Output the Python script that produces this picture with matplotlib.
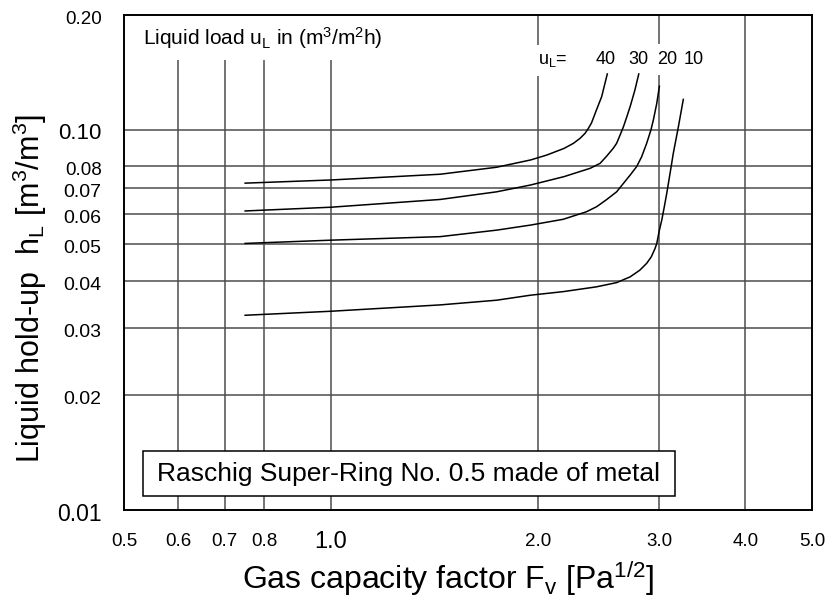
import matplotlib
matplotlib.use('Agg')
import matplotlib.pyplot as plt
from matplotlib.ticker import NullLocator
from matplotlib.patches import Rectangle

plt.rcParams['font.family'] = ['Liberation Sans', 'DejaVu Sans']
plt.rcParams['mathtext.fontset'] = 'custom'
plt.rcParams['mathtext.rm'] = 'Liberation Sans'
plt.rcParams['mathtext.it'] = 'Liberation Sans:italic'

# liquid loads u_L in m3/(m2 h), one hold-up curve each
liquid_loads = [40, 30, 20, 10]

fv_40 = [0.75, 1.0, 1.44, 1.74, 1.95, 2.058, 2.18, 2.25, 2.30, 2.339, 2.365,
         2.39, 2.43, 2.473, 2.52]
hl_40 = [0.0723, 0.0737, 0.0763, 0.0796, 0.0832, 0.0857, 0.0892, 0.0920, 0.0948, 0.0977, 0.1007,
         0.1040, 0.1125, 0.122, 0.140]

fv_30 = [0.75, 1.0, 1.44, 1.74, 1.95, 2.18, 2.38, 2.46, 2.51, 2.57, 2.60, 2.63,
         2.66, 2.69, 2.72, 2.764, 2.80]
hl_30 = [0.0611, 0.0625, 0.0655, 0.0686, 0.0715, 0.0752, 0.0791, 0.0815, 0.0848, 0.0892, 0.0920, 0.0967,
         0.1017, 0.108, 0.1148, 0.127, 0.140]

fv_20 = [0.75, 1.0, 1.44, 1.74, 1.95, 2.175, 2.35, 2.432, 2.51, 2.60, 2.66, 2.72,
         2.78, 2.827, 2.875, 2.916, 2.94, 2.974, 3.0]
hl_20 = [0.0502, 0.0512, 0.0523, 0.0544, 0.0561, 0.0581, 0.0608, 0.0627, 0.0653, 0.0686, 0.0722, 0.0759,
         0.0799, 0.0848, 0.0920, 0.0997, 0.1059, 0.1172, 0.130]

fv_10 = [0.75, 1.0, 1.44, 1.74, 1.95, 2.175, 2.43, 2.60, 2.72, 2.81, 2.875, 2.92,
         2.957, 2.974, 3.0, 3.024, 3.05, 3.075, 3.109, 3.143, 3.197, 3.25]
hl_10 = [0.0325, 0.0333, 0.0346, 0.0356, 0.0367, 0.0375, 0.0386, 0.0396, 0.0410, 0.0427, 0.0445, 0.0463,
         0.0487, 0.0502, 0.0544, 0.0578, 0.0627, 0.0680, 0.0767, 0.0866, 0.1017, 0.120]

curves = [(fv_40, hl_40), (fv_30, hl_30), (fv_20, hl_20), (fv_10, hl_10)]

x_ticks = [0.5, 0.6, 0.7, 0.8, 1.0, 2.0, 3.0, 4.0, 5.0]
x_labels = ['0.5', '0.6', '0.7', '0.8', '1.0', '2.0', '3.0', '4.0', '5.0']
x_sizes = [13.5, 13.5, 13.5, 13.5, 17, 13.5, 13.5, 13.5, 13.5]

y_ticks = [0.01, 0.02, 0.03, 0.04, 0.05, 0.06, 0.07, 0.08, 0.10, 0.20]
y_labels = ['0.01', '0.02', '0.03', '0.04', '0.05', '0.06', '0.07', '0.08', '0.10', '0.20']
y_sizes = [16.5, 14, 14, 14, 14, 14, 14, 13.5, 16, 13.5]

short_grid_x = [0.6, 0.7, 0.8, 1.0]   # stop below the top caption
full_grid_x = [2.0, 3.0, 4.0]
grid_y = [0.02, 0.03, 0.04, 0.05, 0.06, 0.07, 0.08, 0.10]

fig = plt.figure(figsize=(8.27, 6.01), dpi=100)
ax = fig.add_axes([0.1499, 0.1514, 0.8320, 0.8236])
ax.set_xscale('log')
ax.set_yscale('log')
ax.set_xlim(0.5, 5.0)
ax.set_ylim(0.01, 0.20)
for axis in (ax.xaxis, ax.yaxis):
    axis.set_major_locator(NullLocator())
    axis.set_minor_locator(NullLocator())
for sp in ax.spines.values():
    sp.set_linewidth(1.4)
    sp.set_color('black')

gcol = '0.3'
ax.vlines(short_grid_x, 0.01, 0.152, color=gcol, lw=1.1, zorder=1)
for x in full_grid_x:
    ax.axvline(x, color=gcol, lw=1.1, zorder=1)
for y in grid_y:
    ax.axhline(y, color=gcol, lw=1.1, zorder=1)

for fv, hl in curves:
    ax.plot(fv, hl, color='black', lw=1.1, zorder=5)

# tick labels
for x, lab, s in zip(x_ticks, x_labels, x_sizes):
    ax.annotate(lab, xy=(x, 0), xycoords=('data', 'axes fraction'),
                xytext=(0, -23), textcoords='offset points',
                ha='center', va='center', fontsize=s)
for y, lab, s in zip(y_ticks, y_labels, y_sizes):
    ax.annotate(lab, xy=(0, y), xycoords=('axes fraction', 'data'),
                xytext=(-16, -3), textcoords='offset points',
                ha='right', va='center', fontsize=s)

ax.text(0.0276, 0.939, r'Liquid load u$_\mathregular{L}$ in (m$^\mathregular{3}$/m$^\mathregular{2}$h)',
        transform=ax.transAxes, ha='left', va='baseline', fontsize=15)

# curve labels
white = dict(facecolor='white', edgecolor='none', pad=5)
ax.text(0.6017, 0.901, r'u$_\mathregular{L}$=', transform=ax.transAxes,
        ha='left', va='baseline', fontsize=13, bbox=white, zorder=3)
label_x = [0.686, 0.733, 0.775, 0.814]
for lx, load in zip(label_x, liquid_loads):
    ax.text(lx, 0.901, str(load), transform=ax.transAxes, ha='left',
            va='baseline', fontsize=13, bbox=white, zorder=3)

ax.add_patch(Rectangle((0.0276, 0.0283), 0.7733, 0.0909, transform=ax.transAxes,
                       facecolor='white', edgecolor='black', lw=1.1, zorder=6))
ax.text(0.4142, 0.0737, 'Raschig Super-Ring No. 0.5 made of metal',
        transform=ax.transAxes, ha='center', va='center', fontsize=19, zorder=7)

fig.text(448 / 827, 1 - 589 / 601, r'Gas capacity factor F$_\mathregular{v}$ [Pa$^\mathregular{1/2}$]',
         ha='center', va='baseline', fontsize=23)
fig.text(30 / 827, 1 - 288 / 601, r'Liquid hold-up  h$_\mathregular{L}$ [m$^\mathregular{3}$/m$^\mathregular{3}$]',
         ha='center', va='center', rotation=90, fontsize=22)

fig.savefig('out.png', dpi=100)
